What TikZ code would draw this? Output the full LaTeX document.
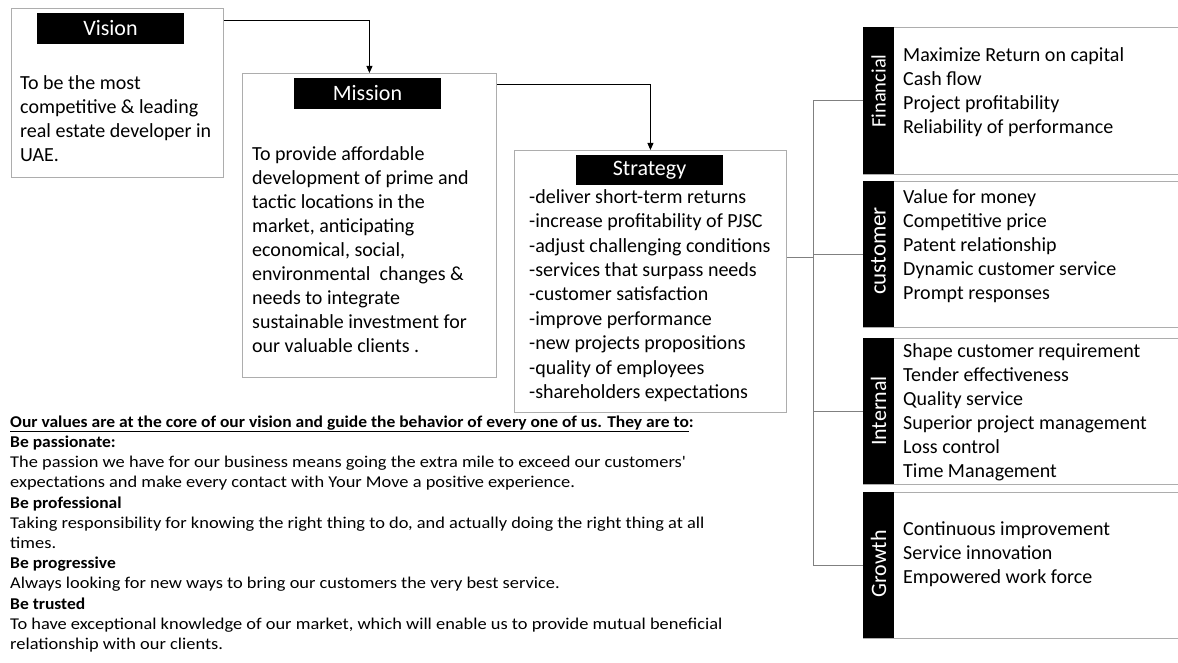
\documentclass[tikz,border=0pt]{standalone}
\usepackage{fontspec}
\setmainfont{Carlito}
\newfontfamily\valuesfont[FakeStretch=1.115]{Carlito}
\newfontfamily\valuesboldfont[FakeStretch=1.06]{Carlito}
\usepackage{tikz}
\usetikzlibrary{positioning,arrows.meta}
\definecolor{boxGray}{HTML}{ADADAD}
\definecolor{lineGray}{HTML}{808080}
\newcommand\valueHead[1]{{\valuesboldfont\fontsize{16.5}{20.2}\selectfont\bfseries #1}}
\tikzset{
  framebox/.style={draw=boxGray, line width=0.9pt, anchor=north west,
                   inner sep=0pt},
  titlebar/.style={fill=black, text=white, inner sep=0pt,
                   minimum width=147pt, minimum height=31pt,
                   font=\fontsize{22}{26}\selectfont},
  bodytext/.style={anchor=north west, inner sep=0pt, align=left,
                   font=\fontsize{20}{24}\selectfont},
  sidebar/.style={fill=black, anchor=north west, inner sep=0pt,
                  minimum width=31pt},
  barlabel/.style={rotate=90, text=white, inner sep=0pt},
  flowarrow/.style={-{Triangle[length=7pt, width=6pt]}, line width=0.9pt},
  treeline/.style={draw=lineGray, line width=0.9pt},
  valuestext/.style={anchor=north west, inner sep=0pt, align=left,
                     font=\valuesfont\fontsize{16.5}{20.2}\selectfont},
}

\begin{document}
\begin{tikzpicture}[x=1pt, y=-1pt]
\useasboundingbox (0,0) rectangle (1178,663);

%% Vision, Mission, Strategy
\node[framebox, minimum width=212pt, minimum height=169pt] (vision) at (11,8) {};
\node[titlebar] (visionTitle) at (110.5,28.5) {Vision};
\node[bodytext] (visionText) at (20,74)
  {\rule{0pt}{15pt}To be the most\\competitive \& leading\\real estate developer in\\UAE.};

\node[framebox, minimum width=254pt, minimum height=304pt] (mission) at (242,73) {};
\node[titlebar] (missionTitle) at (367.5,93.5) {Mission};
\node[bodytext] (missionText) at (252,145)
  {\rule{0pt}{15pt}To provide affordable\\development of prime and\\tactic locations in the\\
   market, anticipating\\economical, social,\\environmental\ \ changes \&\\needs to integrate\\
   sustainable investment for\\our valuable clients .};

\node[framebox, minimum width=272pt, minimum height=262pt] (strategy) at (514,150) {};
\node[titlebar, minimum height=30pt] (strategyTitle) at (649.5,170) {Strategy};
\node[bodytext, font=\fontsize{20}{24.4}\selectfont] (strategyText) at (529,188)
  {\rule{0pt}{15pt}-deliver short-term returns\\-increase profitability of PJSC\\
   -adjust challenging conditions\\-services that surpass needs\\-customer satisfaction\\
   -improve performance\\-new projects propositions\\-quality of employees\\
   -shareholders expectations};

\draw[flowarrow] ([yshift=-12pt]vision.north east) -| (mission.north);
\draw[flowarrow] ([yshift=-11pt]mission.north east) -| (strategy.north);

%% Perspectives
\node[framebox, minimum width=330pt, minimum height=147pt] (finBox) at (863,27) {};
\node[sidebar, minimum height=147pt] (finBar) at (863,27) {};
\node[barlabel, font=\fontsize{20.5}{24}\selectfont] at (878.5,91) {Financial};
\node[bodytext] (finText) at (903,46)
  {\rule{0pt}{15pt}Maximize Return on capital\\Cash flow\\Project profitability\\
   Reliability of performance};

\node[framebox, minimum width=330pt, minimum height=146pt] (custBox) at (863,181) {};
\node[sidebar, minimum height=146pt] (custBar) at (863,181) {};
\node[barlabel, font=\fontsize{23}{26}\selectfont] at (878.5,251) {customer};
\node[bodytext] (custText) at (903,188)
  {\rule{0pt}{15pt}Value for money\\Competitive price\\Patent relationship\\
   Dynamic customer service\\Prompt responses};

\node[framebox, minimum width=330pt, minimum height=146pt] (intBox) at (863,338) {};
\node[sidebar, minimum height=146pt] (intBar) at (863,338) {};
\node[barlabel, font=\fontsize{22}{26}\selectfont] at (878.5,411) {Internal};
\node[bodytext] (intText) at (903,342)
  {\rule{0pt}{15pt}Shape customer requirement\\Tender effectiveness\\Quality service\\
   Superior project management\\Loss control\\Time Management};

\node[framebox, minimum width=330pt, minimum height=146pt] (growBox) at (863,492) {};
\node[sidebar, minimum height=146pt] (growBar) at (863,492) {};
\node[barlabel, font=\fontsize{22}{26}\selectfont] at (878.5,564) {Growth};
\node[bodytext] (growText) at (903,520)
  {\rule{0pt}{15pt}Continuous improvement\\Service innovation\\Empowered work force};

%% Tree connectors
\coordinate (hub) at (813,257);
\draw[treeline] (strategy.east |- hub) -- (hub);
\draw[treeline] (finBar.west) -- (finBar.west -| hub) -- (growBar.west -| hub) -- (growBar.west);
\draw[treeline] (custBar.west -| hub) -- (custBar.west);
\draw[treeline] (intBar.west -| hub) -- (intBar.west);

%% Values
\node[valuestext] (values) at (10,412)
  {\rule{0pt}{15pt}\valueHead{\underline{Our values are at the core of our vision and guide the behavior of every one of us. They are to}:}\\
   \valueHead{Be passionate:}\\
   The passion we have for our business means going the extra mile to exceed our customers'\\
   expectations and make every contact with Your Move a positive experience.\\
   \valueHead{Be professional}\\
   Taking responsibility for knowing the right thing to do, and actually doing the right thing at all\\
   times.\\
   \valueHead{Be progressive}\\
   Always looking for new ways to bring our customers the very best service.\\
   \valueHead{Be trusted}\\
   To have exceptional knowledge of our market, which will enable us to provide mutual beneficial\\
   relationship with our clients.};
\end{tikzpicture}
\end{document}
